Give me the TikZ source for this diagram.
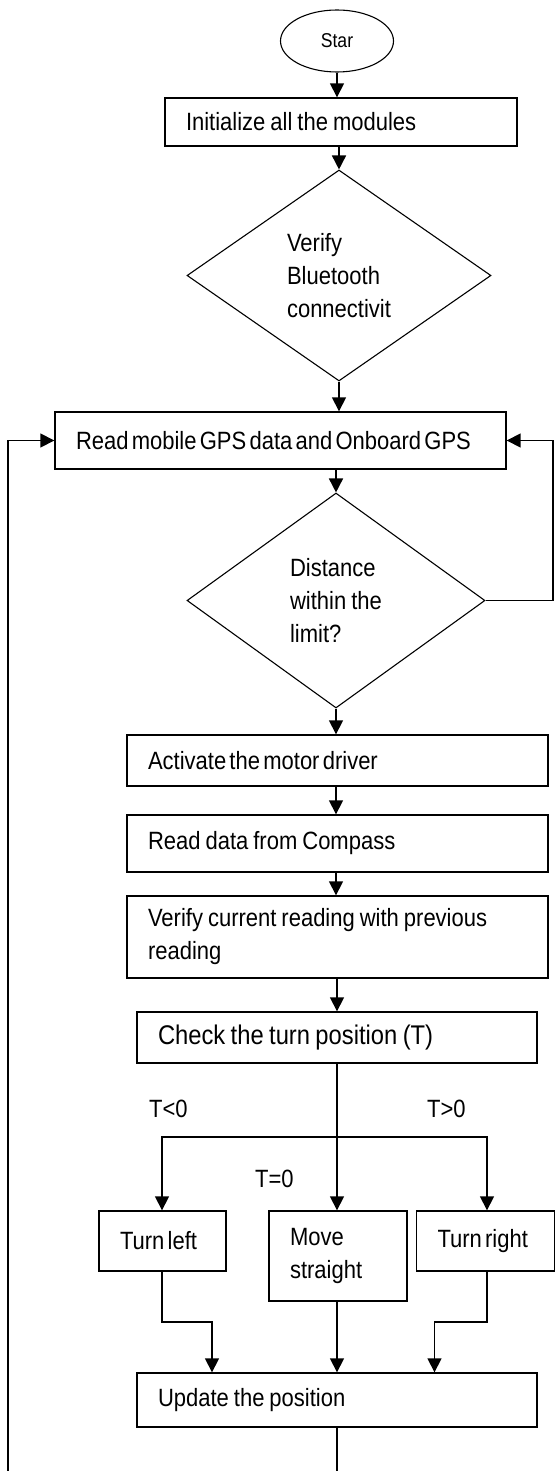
\documentclass[tikz,border=0pt]{standalone}
\usepackage{fontspec}
\setmainfont{Liberation Sans}[FakeStretch=0.88]
\usetikzlibrary{shapes.geometric,arrows.meta}
\newcommand\tightsp{\spaceskip=0.13em\relax}
\newcommand\normsp{\spaceskip=0.2em plus 0.05em\relax}
\tikzset{
  txt/.style={font=\fontsize{25}{33}\selectfont,execute at begin node=\normsp},
  procbox/.style={txt,draw,line width=1.4pt,rectangle,inner xsep=21pt,inner ysep=0pt,align=left},
  decbox/.style={txt,draw,line width=1.1pt,diamond,inner sep=0pt,align=left},
  arr/.style={line width=1.6pt,-{Triangle[length=14pt,width=14pt]}},
  ln/.style={line width=1.6pt},
  lbl/.style={txt,anchor=base west,inner sep=0pt}
}
\begin{document}
\begin{tikzpicture}[x=1pt,y=-1pt]
\useasboundingbox (0,0) rectangle (555,1471);
\node[draw,line width=1.1pt,ellipse,minimum width=113pt,minimum height=62pt,inner sep=0pt,font=\fontsize{20}{24}\selectfont] (start) at (337,41) {Star};
\node[procbox,minimum width=352pt,minimum height=48pt,text width=310pt] (init) at (341,122) {Initialize all the modules};
\node[decbox,minimum width=304pt,minimum height=211pt] (d1) at (339,275.5) {Verify\\Bluetooth\\connectivit};
\node[procbox,minimum width=451pt,minimum height=57pt,text width=409pt] (read) at (280.5,440.5) {\tightsp Read mobile GPS data and Onboard GPS};
\node[decbox,minimum width=298pt,minimum height=215pt] (d2) at (336,600.5) {Distance\\within the\\limit?};
\node[procbox,minimum width=421pt,minimum height=51pt,text width=379pt] (act) at (337.5,760.5) {\tightsp Activate the motor driver};
\node[procbox,minimum width=421pt,minimum height=57pt,text width=379pt] (comp) at (337.5,843.5) {Read data from Compass};
\node[procbox,minimum width=421pt,minimum height=82pt,text width=379pt] (verif) at (337.5,937) {Verify current reading with previous\\reading};
\node[procbox,font=\fontsize{27}{33}\selectfont,minimum width=400pt,minimum height=51pt,text width=358pt] (check) at (337,1037.5) {Check the turn position (T)};
\node[procbox,minimum width=127pt,minimum height=60pt,text width=85pt] (tleft) at (162.5,1241) {\tightsp Turn left};
\node[procbox,minimum width=138pt,minimum height=90pt,text width=96pt] (move) at (338,1256) {Move\\straight};
\node[procbox,minimum width=138pt,minimum height=60pt,text width=96pt] (tright) at (485.5,1241) {\tightsp Turn right};
\node[procbox,minimum width=400pt,minimum height=54pt,text width=358pt] (upd) at (337,1400) {Update the position};

\node[lbl] (lt) at (149,1117) {T<0};
\node[lbl] (gt) at (427,1117) {T>0};
\node[lbl] (eq) at (255,1187) {T=0};

\coordinate (bot) at (337,1471);
\coordinate (botl) at (8,1471);
\coordinate (rx) at (553,600.5);
\coordinate (br) at (337,1137);
\coordinate (lj) at (162,1322);
\coordinate (rj) at (487,1322);

\draw[arr] (start.south) -- (start.south |- init.north);
\draw[arr] (init.south -| d1.north) -- (d1.north);
\draw[arr] (d1.south) -- (d1.south |- read.north);
\draw[arr] (read.south -| d2.north) -- (d2.north);
\draw[arr] (d2.south) -- (d2.south |- act.north);
\draw[arr] (act.south -| d2.south) -- (d2.south |- comp.north);
\draw[arr] (comp.south -| d2.south) -- (d2.south |- verif.north);
\draw[arr] (verif.south -| check.north) -- (check.north);
\draw[arr] (check.south) -- (check.south |- move.north);
\draw[arr] (br) -| (tleft.north -| lj);
\draw[arr] (br) -| (tright.north -| rj);
\draw[arr] (tleft.south -| lj) -- (lj) -| (212,1373 |- upd.north);
\draw[arr] (move.south -| upd.north) -- (upd.north);
\draw[arr] (tright.south -| rj) -- (rj) -| (434.5,1373 |- upd.north);
\draw[ln] (upd.south) -- (bot);
\draw[arr] (d2.east) -- (rx) |- (read.east);
\draw[arr] (botl) |- (read.west);
\end{tikzpicture}
\end{document}
